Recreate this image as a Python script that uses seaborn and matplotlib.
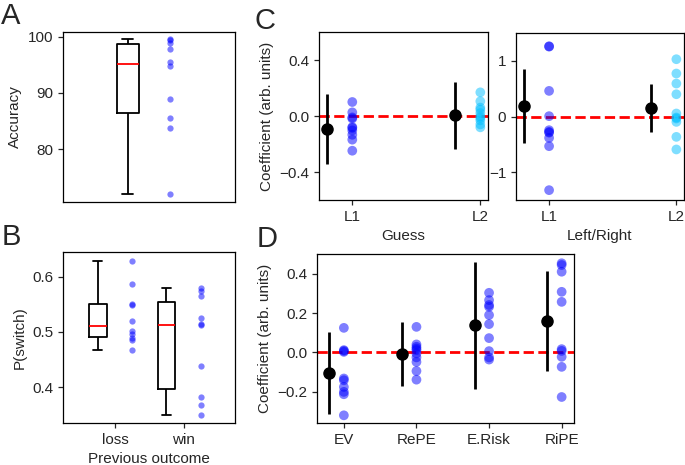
import numpy as np
import pandas as pd
import matplotlib
matplotlib.use("Agg")
import matplotlib.pyplot as plt
import seaborn as sns

sns.set_style("ticks")
plt.rcParams['font.family'] = ['Liberation Sans', 'DejaVu Sans']
plt.rcParams['font.size'] = 11
plt.rcParams['axes.linewidth'] = 0.9
plt.rcParams['xtick.major.width'] = 0.9
plt.rcParams['ytick.major.width'] = 0.9
plt.rcParams['xtick.major.size'] = 3.5
plt.rcParams['ytick.major.size'] = 3.5
plt.rcParams['axes.edgecolor'] = 'black'

# panel A: accuracy per subject
accuracy = [99.5, 99.4, 98.9, 97.8, 95.4, 94.8, 88.9, 85.6, 83.8, 72.0]

# panel B: P(switch) by previous outcome
outcomes = ["loss", "win"]
p_switch_loss = [0.629, 0.587, 0.551, 0.549, 0.520, 0.501, 0.496, 0.490, 0.485, 0.468]
p_switch_win = [0.580, 0.574, 0.565, 0.525, 0.514, 0.512, 0.439, 0.383, 0.368, 0.350]

# panel C: coefficients per level
levels = ["L1", "L2"]
guess_l1 = [0.100, 0.026, -0.010, -0.018, -0.079, -0.085, -0.103, -0.134, -0.169, -0.248]
guess_l2 = [0.169, 0.105, 0.060, 0.045, 0.021, -0.003, -0.015, -0.031, -0.060, -0.081]
guess_mean = [-0.093, 0.005]
guess_err = [0.25, 0.24]

lr_l1 = [1.262, 1.255, 0.46, 0.006, -0.246, -0.276, -0.29, -0.384, -0.533, -1.323]
lr_l2 = [1.029, 0.772, 0.592, 0.40, 0.054, -0.018, -0.036, -0.097, -0.366, -0.592]
lr_mean = [0.18, 0.158]
lr_err = [0.665, 0.434]

# panel D: regressor coefficients
regressors = ["EV", "RePE", "E.Risk", "RiPE"]
coef_ev = [0.125, 0.012, 0.008, 0.003, -0.132, -0.141, -0.175, -0.200, -0.212, -0.319]
coef_repe = [0.130, 0.041, 0.029, 0.020, 0.012, -0.005, -0.025, -0.048, -0.094, -0.138]
coef_erisk = [0.303, 0.266, 0.241, 0.232, 0.190, 0.144, 0.073, 0.007, -0.025, -0.036]
coef_ripe = [0.453, 0.444, 0.410, 0.308, 0.257, 0.017, 0.008, -0.022, -0.073, -0.226]
reg_mean = [-0.104, -0.009, 0.139, 0.16]
reg_err = [0.207, 0.162, 0.322, 0.255]


def long_form(groups, offset=0.0):
    rows = []
    for i, vals in enumerate(groups):
        for v in vals:
            rows.append((i + 1 + offset, v, i))
    return pd.DataFrame(rows, columns=["pos", "val", "grp"])


def box_and_dots(ax, groups):
    df = long_form(groups)
    sns.boxplot(data=df, x="pos", y="val", native_scale=True, orient="x",
                width=0.26, fill=False, color="black", linewidth=1.3,
                showfliers=False, medianprops={"color": "red"}, ax=ax)
    sns.stripplot(data=long_form(groups, 0.5), x="pos", y="val", native_scale=True,
                  orient="x", jitter=False, color="blue", alpha=0.5, size=4.5,
                  linewidth=0, ax=ax)
    ax.set_xlabel("")
    ax.set_ylabel("")


def coef_panel(ax, groups, means, errs, palette):
    ax.axhline(0, color="red", ls="--", lw=2, zorder=1)
    df = long_form(groups)
    sns.stripplot(data=df, x="pos", y="val", hue="grp", palette=palette,
                  native_scale=True, orient="x", jitter=False, alpha=0.5,
                  size=7, linewidth=0, legend=False, ax=ax, zorder=2)
    xs = np.arange(1, len(means) + 1) - 0.2
    ax.errorbar(xs, means, yerr=errs, fmt="o", color="black", ms=8,
                elinewidth=2, capsize=0, zorder=4)
    ax.set_xlabel("")
    ax.set_ylabel("")


W, H = 685, 465
fig = plt.figure(figsize=(W / 100, H / 100), dpi=100)


def px_axes(x0, y0, x1, y1):
    return fig.add_axes([x0 / W, 1 - y1 / H, (x1 - x0) / W, (y1 - y0) / H])


# A
axA = px_axes(63, 32, 235, 202)
box_and_dots(axA, [accuracy])
axA.set_xlim(0.23, 2.27)
axA.set_ylim(70.6, 100.8)
axA.set_xticks([])
axA.set_yticks([80, 90, 100])
axA.set_ylabel("Accuracy")

# B
axB = px_axes(63, 252, 235, 423)
box_and_dots(axB, [p_switch_loss, p_switch_win])
axB.set_xlim(0.49, 3.0)
axB.set_ylim(0.335, 0.645)
axB.set_xticks([1.25, 2.25])
axB.set_xticklabels(outcomes)
axB.set_yticks([0.4, 0.5, 0.6])
axB.set_ylabel("P(switch)")
axB.set_xlabel("Previous outcome")

# C left
axC1 = px_axes(319, 32, 488, 200)
coef_panel(axC1, [guess_l1, guess_l2], guess_mean, guess_err, ["blue", "deepskyblue"])
axC1.set_xlim(0.74, 2.06)
axC1.set_ylim(-0.6, 0.6)
axC1.set_xticks([1, 2])
axC1.set_xticklabels(levels)
axC1.set_yticks([-0.4, 0.0, 0.4])
axC1.set_yticklabels(["\u22120.4", "0.0", "0.4"])
axC1.set_ylabel("Coefficient (arb. units)")
axC1.set_xlabel("Guess")

# C right
axC2 = px_axes(516, 33, 684, 200)
coef_panel(axC2, [lr_l1, lr_l2], lr_mean, lr_err, ["blue", "deepskyblue"])
axC2.set_xlim(0.74, 2.06)
axC2.set_ylim(-1.5, 1.5)
axC2.set_xticks([1, 2])
axC2.set_xticklabels(levels)
axC2.set_yticks([-1, 0, 1])
axC2.set_xlabel("Left/Right")

# D
axD = px_axes(317, 254, 574, 423)
coef_panel(axD, [coef_ev, coef_repe, coef_erisk, coef_ripe], reg_mean, reg_err,
           ["blue"] * 4)
axD.set_xlim(0.63, 4.17)
axD.set_ylim(-0.358, 0.5)
axD.set_xticks([1, 2, 3, 4])
axD.set_xticklabels(regressors)
axD.set_yticks([-0.2, 0.0, 0.2, 0.4])
axD.set_yticklabels(["\u22120.2", "0.0", "0.2", "0.4"])
axD.set_ylabel("Coefficient (arb. units)")

# panel letters
for letter, x, y in [("A", 1, 2), ("B", 2, 223), ("C", 255, 7), ("D", 257, 225)]:
    fig.text(x / W, 1 - y / H, letter, fontsize=21, ha="left", va="top")

fig.savefig("out.png", dpi=100)
